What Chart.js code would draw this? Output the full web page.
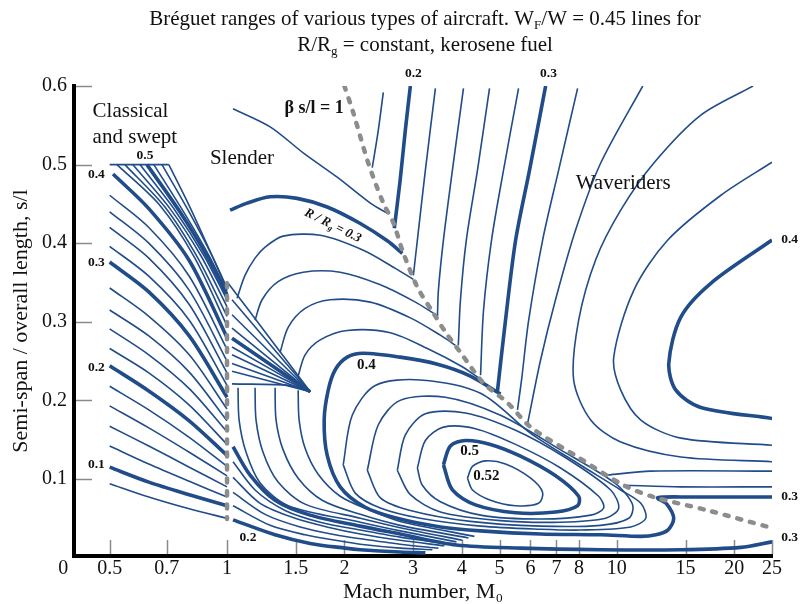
<!DOCTYPE html>
<html><head><meta charset="utf-8">
<script src="https://cdn.jsdelivr.net/npm/chart.js@4.4.1/dist/chart.umd.min.js"></script>
<style>html,body{margin:0;padding:0;background:#fff}canvas{display:block}</style>
</head><body>
<canvas id="c" width="800" height="604"></canvas>
<script>
// ---------------- DATA (x = Mach number M0, y = s/l) ----------------
const xTickValues = [0.38,0.5,0.7,1,1.5,2,3,4,5,6,7,8,10,15,20,25];
const xTickLabels = ['0','0.5','0.7','1','1.5','2','3','4','5','6','7','8','10','15','20','25'];
const yTickValues = [0.1,0.2,0.3,0.4,0.5,0.6];

// Classical and swept wings (M < 1); null = boundary line
const classicalLevels = [0.08,0.10,0.12,0.14,0.16,0.18,0.20,0.22,0.24,0.26,0.28,0.30,0.32,0.34,0.36,0.38,0.40,
  0.42,0.44,0.46,0.48,0.50,0.52,0.54,null,null];
const classicalLines = [
  [[0.5,0.094],[0.63,0.077],[0.8,0.062],[1,0.050]],
  [[0.5,0.115],[0.63,0.096],[0.8,0.080],[1,0.066]],
  [[0.5,0.142],[0.63,0.119],[0.8,0.097],[1,0.077]],
  [[0.5,0.167],[0.63,0.142],[0.8,0.115],[1,0.090]],
  [[0.5,0.193],[0.63,0.165],[0.8,0.134],[1,0.104]],
  [[0.5,0.218],[0.63,0.188],[0.8,0.153],[1,0.116]],
  [[0.5,0.244],[0.63,0.212],[0.8,0.174],[1,0.130]],
  [[0.5,0.266],[0.63,0.235],[0.8,0.194],[1,0.144]],
  [[0.5,0.291],[0.63,0.258],[0.8,0.215],[1,0.160]],
  [[0.5,0.315],[0.63,0.282],[0.8,0.236],[1,0.174]],
  [[0.5,0.343],[0.63,0.307],[0.8,0.258],[1,0.189]],
  [[0.5,0.376],[0.63,0.338],[0.8,0.282],[1,0.204]],
  [[0.5,0.396],[0.63,0.358],[0.8,0.302],[1,0.219]],
  [[0.5,0.420],[0.63,0.381],[0.8,0.322],[1,0.235]],
  [[0.5,0.440],[0.63,0.400],[0.8,0.340],[1,0.250]],
  [[0.5,0.461],[0.63,0.420],[0.8,0.358],[1,0.265]],
  [[0.51,0.488],[0.63,0.444],[0.8,0.378],[1,0.280]],
  [[0.522,0.5],[0.673,0.448],[0.827,0.381],[1,0.295]],
  [[0.547,0.5],[0.693,0.446],[0.842,0.381],[1,0.307]],
  [[0.573,0.5],[0.714,0.444],[0.857,0.384],[1,0.319]],
  [[0.598,0.5],[0.735,0.442],[0.873,0.384],[1,0.328]],
  [[0.623,0.5],[0.757,0.440],[0.888,0.384],[1,0.334]],
  [[0.649,0.5],[0.780,0.437],[0.904,0.382],[1,0.338]],
  [[0.681,0.5],[0.803,0.438],[0.915,0.384],[1,0.340]],
  [[0.709,0.5],[0.803,0.446],[0.920,0.382],[1,0.343]],
  [[0.5,0.5],[0.709,0.5]]
];

// Transonic wedge just above M = 1
const wedgeLevels = [null,0.46,0.44,0.42,0.40,0.38,0.36,0.34,0.32,null];
const wedgeLines = [
  [[1,0.351],[1.275,0.282],[1.634,0.211]],
  [[1.03,0.328],[1.634,0.211]],
  [[1.03,0.309],[1.634,0.211]],
  [[1.03,0.292],[1.634,0.211]],
  [[1.03,0.279],[1.634,0.211]],
  [[1.03,0.268],[1.634,0.211]],
  [[1.03,0.258],[1.634,0.211]],
  [[1.03,0.247],[1.634,0.211]],
  [[1.03,0.237],[1.634,0.211]],
  [[1.03,0.221],[1.452,0.219],[1.634,0.211]]
];

// Slender wings (below beta s/l = 1)
const slenderLevels = [0.28,0.30,0.32,0.34,0.36,0.38,0.40];
const slenderLines = [
  [[1.036,0.571],[1.29,0.548],[1.568,0.515],[1.917,0.484],[2.331,0.451],[2.58,0.438]],
  [[1.018,0.442],[1.126,0.451],[1.29,0.459],[1.513,0.457],[1.807,0.446],[2.197,0.425],[2.577,0.403],[2.817,0.387]],
  [[1.061,0.330],[1.112,0.359],[1.18,0.381],[1.252,0.395],[1.393,0.409],[1.734,0.410],[2.236,0.391],[2.702,0.368],[3.006,0.354]],
  [[1.18,0.302],[1.23,0.328],[1.352,0.351],[1.568,0.363],[1.951,0.363],[2.474,0.347],[3.042,0.325],[3.384,0.311]],
  [[1.368,0.261],[1.435,0.293],[1.586,0.317],[1.84,0.328],[2.331,0.325],[2.953,0.305],[3.526,0.283],[3.854,0.270]],
  [[1.522,0.231],[1.586,0.258],[1.734,0.277],[2.034,0.289],[2.623,0.286],[3.324,0.264],[3.97,0.244],[4.416,0.229]],
  [[5.029,0.208],[4.212,0.231],[3.465,0.246],[2.78,0.255],[2.236,0.260],[2.034,0.255],[1.895,0.239],[1.818,0.213],
   [1.775,0.175],[1.807,0.130],[1.951,0.090],[2.263,0.064],[2.78,0.049],[3.526,0.039],[4.47,0.034],[6.37,0.030],
   [9.09,0.029],[11.52,0.027],[12.59,0.029],[13.51,0.035],[13.99,0.050],[13.43,0.068],[12.73,0.076],[15.48,0.077],
   [20.81,0.077],[25,0.077]]
];

// Lower family ending on the low s/l boundary
const lowerLevels = [0.20,0.22,0.24,0.26,0.28,0.30,0.32,0.34,0.36,0.38];
const lowerLines = [
  [[1.036,0.048],[1.328,0.029],[1.634,0.018],[2.01,0.012],[2.197,0.010],[2.78,0.007],[3.227,0.006]],
  [[1.036,0.066],[1.29,0.041],[1.586,0.029],[1.951,0.021],[2.197,0.017],[2.78,0.012],[3.364,0.010]],
  [[1.036,0.083],[1.252,0.055],[1.54,0.039],[1.895,0.029],[2.197,0.024],[2.78,0.017],[3.485,0.012]],
  [[1.036,0.102],[1.216,0.069],[1.495,0.050],[1.84,0.038],[2.197,0.030],[2.78,0.022],[3.611,0.015]],
  [[1.036,0.122],[1.18,0.086],[1.409,0.060],[1.734,0.045],[2.197,0.035],[2.78,0.026],[3.74,0.017]],
  [[1.036,0.141],[1.146,0.105],[1.328,0.073],[1.634,0.054],[2.197,0.040],[2.78,0.030],[3.877,0.016],[5.66,0.012],
   [9.09,0.010],[14.59,0.010],[20.81,0.013],[25,0.020]],
  [[1.067,0.216],[1.074,0.175],[1.119,0.134],[1.216,0.095],[1.435,0.066],[2.197,0.045],[2.78,0.034],[3.877,0.020]],
  [[1.18,0.216],[1.187,0.175],[1.237,0.134],[1.352,0.096],[1.586,0.068],[2.197,0.050],[2.78,0.038],[4.017,0.022]],
  [[1.328,0.216],[1.336,0.175],[1.393,0.137],[1.522,0.101],[1.754,0.073],[2.197,0.055],[2.78,0.041],[4.162,0.025]],
  [[1.522,0.213],[1.531,0.175],[1.586,0.139],[1.713,0.106],[1.951,0.078],[2.331,0.060],[2.78,0.046],[4.312,0.027]]
];

// Closed loops around the maximum
const loopLevels = [0.42,0.44,0.46,0.48,0.50,0.52];
const loopLines = [
  [[1.986,0.118],[2.095,0.181],[2.4,0.219],[3.13,0.226],[4.47,0.209],[6.01,0.158],[7.93,0.120],[10.23,0.086],
   [11.52,0.069],[11.86,0.050],[10.86,0.039],[8.07,0.035],[6.37,0.036],[4.47,0.040],[3.13,0.050],[2.474,0.063],[2.133,0.082],[1.986,0.118]],
  [[2.29,0.111],[2.444,0.169],[2.78,0.200],[3.632,0.204],[5.029,0.181],[7.17,0.137],[9.93,0.094],[10.98,0.067],
   [10.73,0.050],[9.09,0.041],[6.37,0.040],[4.21,0.046],[2.953,0.060],[2.474,0.076],[2.29,0.111]],
  [[2.734,0.111],[2.867,0.156],[3.227,0.183],[4.089,0.184],[5.497,0.162],[7.389,0.127],[9.64,0.086],[10.11,0.063],
   [9.36,0.050],[7.17,0.045],[5.029,0.047],[3.526,0.058],[2.953,0.080],[2.734,0.111]],
  [[3.078,0.114],[3.227,0.149],[3.59,0.166],[4.338,0.164],[5.497,0.144],[7.17,0.114],[8.98,0.078],[9.25,0.063],
   [8.57,0.054],[6.37,0.049],[4.47,0.054],[3.526,0.071],[3.17,0.092],[3.078,0.114]],
  [[3.59,0.118],[3.74,0.142],[4.089,0.149],[4.74,0.144],[5.66,0.129],[6.965,0.104],[7.98,0.078],[7.93,0.066],
   [6.965,0.058],[5.497,0.057],[4.338,0.067],[3.786,0.086],[3.59,0.118]],
  [[4.138,0.101],[4.262,0.116],[4.603,0.123],[5.181,0.119],[6.01,0.101],[6.448,0.083],[6.298,0.069],[5.497,0.066],
   [4.74,0.073],[4.262,0.086],[4.138,0.101]]
];

// Waveriders (above beta s/l = 1)
const waveLevels = [0.18,0.20,0.22,0.24,0.26,0.28,0.30,0.32,0.34,0.36,0.38,0.40,null,null];
const waveLines = [
  [[2.517,0.592],[2.444,0.544],[2.358,0.496]],
  [[2.953,0.6],[2.867,0.544],[2.78,0.480],[2.686,0.419]],
  [[3.424,0.597],[3.227,0.493],[3.078,0.404],[3.006,0.359]],
  [[4.041,0.597],[3.786,0.493],[3.59,0.404],[3.485,0.340],[3.465,0.305]],
  [[4.713,0.597],[4.39,0.493],[4.11,0.404],[3.97,0.328],[3.92,0.270]],
  [[5.595,0.597],[5.12,0.493],[4.77,0.404],[4.55,0.315],[4.47,0.232]],
  [[6.566,0.6],[5.97,0.493],[5.50,0.404],[5.18,0.302],[4.94,0.212]],
  [[7.93,0.597],[7.09,0.493],[6.45,0.404],[5.94,0.302],[5.695,0.226],[5.56,0.188]],
  [[11.65,0.6],[9.09,0.502],[7.84,0.417],[6.96,0.328],[6.37,0.251],[5.9,0.170]],
  [[22.35,0.6],[16.42,0.563],[12.44,0.502],[10.23,0.442],[8.825,0.379],[7.98,0.302],[7.747,0.226],[8.57,0.175],
   [10.23,0.147],[14.59,0.128],[25,0.122]],
  [[25,0.503],[18.49,0.461],[13.51,0.404],[11.05,0.340],[9.817,0.255],[10.23,0.213],[11.52,0.175],[14.59,0.152],[25,0.143]],
  [[25,0.404],[17.42,0.349],[14.59,0.306],[13.59,0.247],[14.17,0.213],[16.42,0.191],[25,0.177]],
  [[9.47,0.105],[12.22,0.110],[25,0.110]],
  [[10.41,0.092],[14.59,0.090],[25,0.090]]
];

// Regime boundaries (dashed)
const betaLine = [[2.0,0.6],[2.108,0.566],[2.303,0.502],[2.517,0.451],[2.671,0.426],[2.817,0.391],[3.078,0.344],
  [3.384,0.311],[3.632,0.287],[3.97,0.261],[4.549,0.222],[5.242,0.197],[6.01,0.166],[7.93,0.128],[10.41,0.092],
  [12.44,0.077],[17.12,0.060],[24.42,0.039]];
const machOneLine = [[1,0.349],[1,0.049]];

// Text annotations (anchored in data coordinates)
const contourLabels = [
  {t:'0.5', M:0.616, s:0.512, size:13.5, align:'center'},
  {t:'0.4', M:0.486, s:0.487, size:13.5, align:'right'},
  {t:'0.3', M:0.486, s:0.376, size:13.5, align:'right'},
  {t:'0.2', M:0.486, s:0.242, size:13.5, align:'right'},
  {t:'0.1', M:0.486, s:0.118, size:13.5, align:'right'},
  {t:'0.2', M:1.132, s:0.025, size:13.5, align:'center'},
  {t:'0.2', M:3.006, s:0.616, size:13.5, align:'center'},
  {t:'0.3', M:6.68,  s:0.616, size:13.5, align:'center'},
  {t:'0.4', M:26.4,  s:0.405, size:13.5, align:'left'},
  {t:'0.3', M:26.4,  s:0.078, size:13.5, align:'left'},
  {t:'0.3', M:26.4,  s:0.026, size:13.5, align:'left'},
  {t:'0.4', M:2.276, s:0.245, size:15, align:'center'},
  {t:'0.5', M:4.188, s:0.135, size:15, align:'center'},
  {t:'0.52', M:4.63, s:0.103, size:15, align:'center'}
];
const regionLabels = [
  {t:'Classical', M:0.452, s:0.567},
  {t:'and swept', M:0.452, s:0.535},
  {t:'Slender', M:0.904, s:0.508},
  {t:'Waveriders', M:7.84, s:0.476}
];

// ---------------- RENDERING ----------------
const BLUE = '#204c89';
const INK = '#111111';
const FONT = "'Liberation Serif', 'Times New Roman', serif";

function isThick(level) {
  return level !== null && Math.abs(level * 10 - Math.round(level * 10)) < 1e-6;
}
const datasets = [];
function dashed(pts) {
  datasets.push({data: pts.map(p => ({x: p[0], y: p[1]})), borderColor: '#8c8c8c', borderWidth: 4.5,
    borderDash: [4, 9], borderCapStyle: 'round', pointRadius: 0, tension: 0.3, fill: false});
}
dashed(betaLine);
dashed(machOneLine);
function addFamily(levels, lines) {
  lines.forEach((pts, i) => {
    const thick = isThick(levels[i]);
    datasets.push({data: pts.map(p => ({x: p[0], y: p[1]})), borderColor: BLUE,
      borderWidth: thick ? 3.6 : 1.6, pointRadius: 0, tension: 0.3, fill: false,
      borderCapStyle: 'butt', borderJoinStyle: 'round'});
  });
}
addFamily(classicalLevels, classicalLines);
addFamily(wedgeLevels, wedgeLines);
addFamily(slenderLevels, slenderLines);
addFamily(lowerLevels, lowerLines);
addFamily(loopLevels, loopLines);
addFamily(waveLevels, waveLines);

function drawRich(ctx, segs, x, y, size, weight, style, align) {
  const parts = segs.map(sg => {
    const fs = sg.sub ? size * 0.62 : size;
    ctx.font = `${style || 'normal'} ${weight || 'normal'} ${fs}px ${FONT}`;
    return {sg, fs, w: ctx.measureText(sg.t).width};
  });
  const total = parts.reduce((a, p) => a + p.w, 0);
  let cx = align === 'left' ? x : x - total / 2;
  ctx.textAlign = 'left';
  ctx.textBaseline = 'alphabetic';
  parts.forEach(p => {
    ctx.font = `${style || 'normal'} ${weight || 'normal'} ${p.fs}px ${FONT}`;
    ctx.fillText(p.sg.t, cx, p.sg.sub ? y + size * 0.2 : y);
    cx += p.w;
  });
}

const decorPlugin = {
  id: 'decor',
  beforeDatasetsDraw(chart) {
    const {ctx, chartArea: a, scales: {x, y}} = chart;
    ctx.save();
    ctx.strokeStyle = '#8a8a8a';
    ctx.lineWidth = 1.5;
    xTickValues.forEach(v => {
      if (v < x.min) return;
      const px = Math.round(x.getPixelForValue(v)) + 0.5;
      ctx.beginPath(); ctx.moveTo(px, a.bottom - 2); ctx.lineTo(px, a.bottom - 16); ctx.stroke();
    });
    yTickValues.forEach(v => {
      const py = Math.round(y.getPixelForValue(v)) + 0.5;
      ctx.beginPath(); ctx.moveTo(a.left + 2, py); ctx.lineTo(a.left + 18, py); ctx.stroke();
    });
    ctx.restore();
  },
  afterDatasetsDraw(chart) {
    const {ctx, scales: {x, y}} = chart;
    ctx.save();
    ctx.fillStyle = INK;
    ctx.textBaseline = 'middle';
    contourLabels.forEach(l => {
      ctx.font = `bold ${l.size}px ${FONT}`;
      ctx.textAlign = l.align;
      ctx.fillText(l.t, x.getPixelForValue(l.M), y.getPixelForValue(l.s));
    });
    regionLabels.forEach(l => {
      ctx.font = `21px ${FONT}`;
      ctx.textAlign = 'left';
      ctx.fillText(l.t, x.getPixelForValue(l.M), y.getPixelForValue(l.s));
    });
    ctx.font = `bold 18px ${FONT}`;
    ctx.textAlign = 'center';
    ctx.fillText('\u03B2 s/l = 1', x.getPixelForValue(1.673), y.getPixelForValue(0.572));
    // rotated R/Rg label
    ctx.translate(x.getPixelForValue(1.871), y.getPixelForValue(0.423));
    ctx.rotate(26.5 * Math.PI / 180);
    drawRich(ctx, [{t: 'R / R'}, {t: 'g', sub: true}, {t: ' = 0.3'}], 0, 4, 13, 'bold', 'italic', 'center');
    ctx.restore();
  },
  afterDraw(chart) {
    const ctx = chart.ctx;
    ctx.save();
    ctx.fillStyle = INK;
    drawRich(ctx, [{t: 'Br\u00e9guet ranges of various types of aircraft. W'}, {t: 'F', sub: true},
      {t: '/W = 0.45 lines for'}], 425, 25, 21, 'normal', 'normal', 'center');
    drawRich(ctx, [{t: 'R/R'}, {t: 'g', sub: true}, {t: ' = constant, kerosene fuel'}], 425, 51, 21,
      'normal', 'normal', 'center');
    ctx.restore();
  }
};

new Chart(document.getElementById('c'), {
  type: 'line',
  data: {datasets},
  plugins: [decorPlugin],
  options: {
    responsive: false,
    devicePixelRatio: 1,
    animation: false,
    events: [],
    layout: {padding: {top: 86, right: 28, bottom: 0, left: 0}},
    plugins: {legend: {display: false}, title: {display: false}, tooltip: {enabled: false}},
    scales: {
      x: {
        type: 'logarithmic', min: 0.405, max: 25,
        afterBuildTicks: s => { s.ticks = xTickValues.map(v => ({value: v})); },
        afterFit: s => { s.height = 48; },
        ticks: {autoSkip: false, maxRotation: 0, minRotation: 0, padding: 1, color: INK,
          font: {family: FONT, size: 20},
          callback: v => { const i = xTickValues.indexOf(v); return i >= 0 ? xTickLabels[i] : ''; }},
        grid: {display: false, drawTicks: false},
        border: {display: true, color: '#000', width: 4},
        title: {display: true, text: 'Mach number, M\u2080', color: INK,
          font: {family: FONT, size: 22, lineHeight: 1}, padding: {top: 0, bottom: 1}}
      },
      y: {
        type: 'linear', min: 0.002, max: 0.6,
        afterBuildTicks: s => { s.ticks = yTickValues.map(v => ({value: v})); },
        afterFit: s => { s.width = 74; },
        ticks: {padding: 7, color: INK, font: {family: FONT, size: 20}, callback: v => v.toFixed(1)},
        grid: {display: false, drawTicks: false},
        border: {display: true, color: '#000', width: 4},
        title: {display: true, text: 'Semi-span / overall length, s/l', color: INK,
          font: {family: FONT, size: 22, lineHeight: 1}, padding: {top: 10, bottom: 0}}
      }
    }
  }
});
</script>
</body></html>
